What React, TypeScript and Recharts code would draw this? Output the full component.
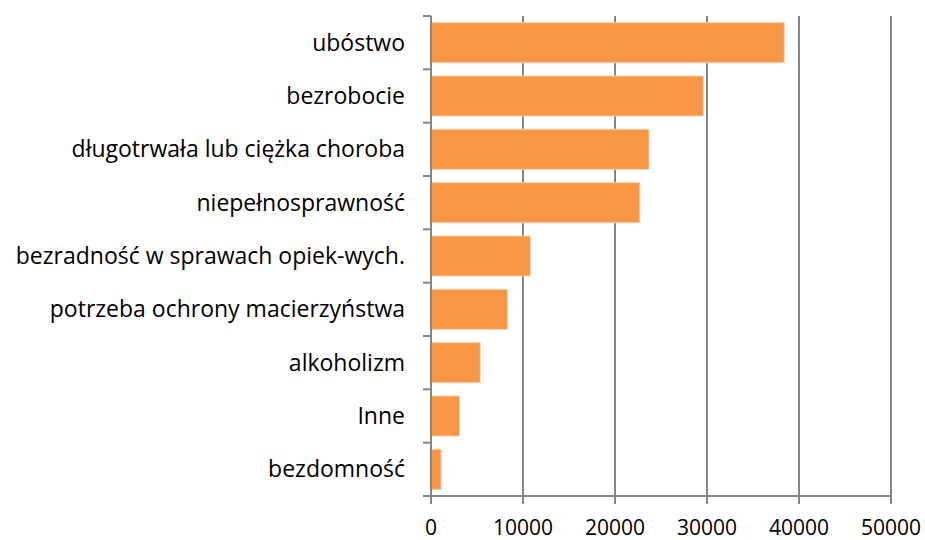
import { BarChart, Bar, XAxis, YAxis, CartesianGrid } from 'recharts';

const categories = [
    'ubóstwo',
    'bezrobocie',
    'długotrwała lub ciężka choroba',
    'niepełnosprawność',
    'bezradność w sprawach opiek-wych.',
    'potrzeba ochrony macierzyństwa',
    'alkoholizm',
    'Inne',
    'bezdomność',
];
const values = [38400, 29600, 23700, 22700, 10800, 8300, 5350, 3100, 1100];
const xTicks = [0, 10000, 20000, 30000, 40000, 50000];
const edgeTicks = [0, 1, 2, 3, 4, 5, 6, 7, 8, 9];

const data = categories.map((name, i) => ({ name, value: values[i], edge: i }));

const gray = '#868686';
const font = '"Open Sans", sans-serif';

const App = () => {
    return (
        <div style={{ position: 'absolute', left: 0, top: 0, width: 925, height: 540, background: '#fff' }}>
            <BarChart
                width={925}
                height={540}
                data={data}
                layout="vertical"
                margin={{ top: 16, right: 34, bottom: 0, left: 0 }}
                barCategoryGap="12.5%"
            >
                <CartesianGrid horizontal={false} stroke={gray} strokeWidth={2} />
                <XAxis
                    type="number"
                    domain={[0, 50000]}
                    ticks={xTicks}
                    height={44}
                    tickSize={8}
                    tickMargin={16}
                    axisLine={{ stroke: gray, strokeWidth: 2 }}
                    tickLine={{ stroke: gray, strokeWidth: 2 }}
                    tick={{ fill: '#000', fontSize: 21, fontFamily: font }}
                />
                <YAxis
                    yAxisId="a_edges"
                    type="number"
                    dataKey="edge"
                    orientation="left"
                    domain={[0, 9]}
                    ticks={edgeTicks}
                    reversed
                    width={1}
                    tickFormatter={() => ''}
                    tickSize={8}
                    axisLine={{ stroke: gray, strokeWidth: 2 }}
                    tickLine={{ stroke: gray, strokeWidth: 2 }}
                />
                <YAxis
                    yAxisId="b_cat"
                    type="category"
                    dataKey="name"
                    width={430}
                    tickSize={8}
                    tickMargin={17}
                    axisLine={false}
                    tickLine={false}
                    interval={0}
                    tick={{ fill: '#000', fontSize: 23, fontFamily: font }}
                />
                <Bar
                    yAxisId="b_cat"
                    dataKey="value"
                    fill="#F79646"
                    stroke="#FBCDA8"
                    strokeWidth={1}
                    isAnimationActive={false}
                />
            </BarChart>
        </div>
    );
};

export default App;
